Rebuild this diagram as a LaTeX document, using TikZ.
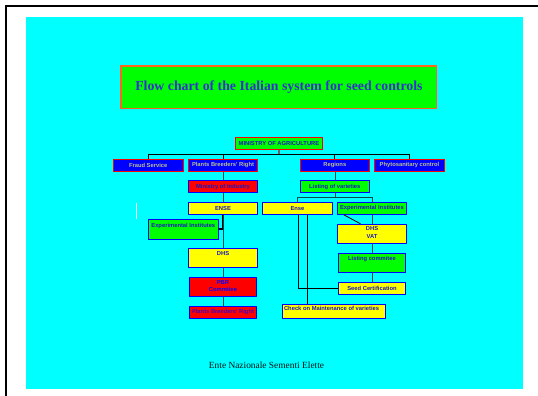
\documentclass[tikz,border=0pt]{standalone}
\usepackage{fontspec}
\setmainfont{Liberation Serif}
\newfontfamily\arialfont{Liberation Sans}
\definecolor{cyanbg}{rgb}{0,1,1}
\definecolor{grn}{rgb}{0,1,0}
\definecolor{yel}{rgb}{1,1,0}
\definecolor{rd}{rgb}{1,0,0}
\definecolor{bl}{rgb}{0,0,1}
\definecolor{orng}{rgb}{1,0.4,0.1}
\definecolor{titletext}{rgb}{0.2,0.2,0.8}
\definecolor{khaki}{rgb}{0.75,0.75,0.55}
\definecolor{darkblue}{rgb}{0.1,0.1,0.75}
\definecolor{tealline}{rgb}{0,0.3,0.3}
\tikzset{
  boxfont/.style={font=\arialfont\bfseries\fontsize{5.8}{7.7}\selectfont},
  box/.style={boxfont, draw, line width=1pt, inner sep=0pt, minimum height=12pt, minimum width=69.4pt, text=darkblue},
  bluebox/.style={box, fill=bl, draw=rd, text=khaki},
  greenbox/.style={box, fill=grn, draw=bl},
  yellowbox/.style={box, fill=yel, draw=bl},
  redbox/.style={box, fill=rd, draw=bl},
  toplbl/.style={boxfont, text=darkblue, anchor=north, inner sep=0pt, align=center},
  conn/.style={draw=tealline, line width=0.6pt},
  blk/.style={draw=black, line width=0.8pt},
}
\begin{document}
\begin{tikzpicture}[x=1pt,y=-1pt]
\useasboundingbox (0,0) rectangle (538,396);
% frame and background
\fill[white] (0,0) rectangle (538,396);
\fill[cyanbg] (26,17) rectangle (522.7,388.7);
\draw[black, line width=1.6pt] (538,6) -- (6,6) -- (6,396);
% title
\node[draw=orng, line width=1.3pt, fill=grn, minimum width=315.7pt, minimum height=42.3pt, inner sep=0pt,
      text=titletext, font=\bfseries\fontsize{13.8}{16}\selectfont] (title) at (278.9,87.2)
      {Flow chart of the Italian system for seed controls};
% boxes
\node[greenbox, draw=rd, minimum width=86.6pt] (min) at (279,143.3) {MINISTRY OF AGRICULTURE};
\node[bluebox, minimum width=69.7pt] (fraud) at (148.2,165.3) {Fraud Service};
\node[bluebox] (pbrtop) at (223,165.3) {Plants Breeders' Right};
\node[bluebox, minimum width=69pt] (reg) at (334.8,165.3) {Regions};
\node[bluebox, minimum width=69.6pt] (phyto) at (409.5,165.3) {Phytosanitary control};
\node[redbox] (minind) at (223,186.7) {Ministry of Industry};
\node[greenbox, minimum width=69pt] (list) at (334.8,186.7) {Listing of varieties};
\node[yellowbox] (ENSE) at (223,208.3) {ENSE};
\node[yellowbox, minimum width=70.4pt] (ense) at (297.5,208.3) {Ense};
\node[greenbox] (expr) at (372,208.3) {Experimental Institutes};
\node[greenbox, minimum width=70pt, minimum height=20pt,
      label={[toplbl, yshift=-4.9pt]north:Experimental Institutes}] (expl) at (183.3,229) {};
\node[yellowbox, minimum height=19pt,
      label={[toplbl, yshift=-3.7pt]north:DHS}] (dhs) at (223,257.8) {};
\node[redbox, minimum width=67.4pt, minimum height=19.3pt,
      label={[toplbl, yshift=-3.4pt, text=bl]north:{PBR\\Commitee}}] (pbrc) at (223,286.7) {};
\node[redbox, minimum width=67.4pt, minimum height=12.3pt, text=bl!70!red] (pbrbot) at (223,312.2) {Plants Breeders' Right};
\node[yellowbox, minimum height=19pt,
      label={[toplbl, yshift=-2.9pt]north:{DHS\\VAT}}] (dhsvat) at (372,233.8) {};
\node[greenbox, minimum width=67.4pt, minimum height=19pt,
      label={[toplbl, yshift=-3.3pt]north:Listing commitee}] (listc) at (372,262.8) {};
\node[yellowbox, minimum width=67.4pt, minimum height=11.7pt] (seed) at (372,288.2) {Seed Certification};
\node[yellowbox, minimum width=102.7pt, minimum height=14.3pt,
      label={[toplbl, anchor=north west, xshift=2pt, yshift=-2.9pt]north west:Check on Maintenance of varieties}] (check) at (333.7,311.2) {};
% connectors top
\coordinate (bar) at (279,154.3);
\draw[draw=black!60, line width=1.2pt] (min.south) -- (bar);
\draw[blk] (fraud.north) |- (bar) -| (phyto.north);
\draw[blk] (pbrtop.north) -- (pbrtop.north |- bar);
\draw[blk] (reg.north) -- (reg.north |- bar);
% left column
\draw[conn] (pbrtop.south) -- (minind.north);
\draw[conn] (minind.south) -- (ENSE.north);
\draw[conn] (ENSE.south) -- (dhs.north);
\draw[conn] (dhs.south) -- (pbrc.north);
\draw[conn] (pbrc.south) -- (pbrbot.north);
\draw[black, line width=1.4pt] ([xshift=-0.3pt]ENSE.south) |- (expl.east);
% right side
\coordinate (bar2) at (334.8,197.7);
\draw[conn] (reg.south) -- (list.north);
\draw[conn] (list.south) -- (bar2);
\draw[conn] (ense.north) |- (bar2) -| (expr.north);
\draw[conn] (expr.south) -- (dhsvat.north);
\draw[conn] (dhsvat.south) -- (listc.north);
\draw[conn] (listc.south) -- (seed.north);
\draw[blk] ([xshift=7pt]expr.south west) -- ([xshift=23.7pt]dhsvat.north west);
\draw[blk] ([xshift=0.8pt]ense.south) |- (seed.west);
\draw[blk] ([xshift=9.8pt]ense.south) -- ([xshift=9.8pt]ense.south |- check.north);
% white tick mark
\draw[white, line width=1.5pt] (136.7,203) -- (136.7,219);
% footer
\node[text=black!85!teal, font=\fontsize{9.4}{11}\selectfont, inner sep=0pt] (footer) at (266.5,365.7) {Ente Nazionale Sementi Elette};
\end{tikzpicture}
\end{document}
